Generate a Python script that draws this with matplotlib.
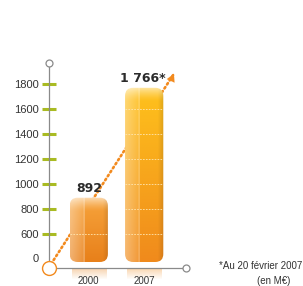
#!/usr/bin/env python3

import numpy as np
import matplotlib
matplotlib.use("Agg")
import matplotlib.pyplot as plt
from matplotlib.patches import FancyBboxPatch
from matplotlib.transforms import ScaledTranslation

# data
years = ["2000", "2007"]
values = [892, 1766]
value_labels = ["892", "1 766*"]
tick_values = [0, 600, 800, 1000, 1200, 1400, 1600, 1800]
tick_labels = ["0", "600", "800", "1000", "1200", "1400", "1600", "1800"]
footnote = "*Au 20 février 2007"
unit_note = "(en M€)"

plt.rcParams["font.family"] = ["Liberation Sans", "DejaVu Sans"]

GRAY = "#8a8a8a"
GREEN = "#a9bb22"
ORANGE = "#f28a1e"
TEXT = "#333333"

# the value axis is squeezed between 0 and 600
BREAK = 600
SQUEEZE = 267.0 / 600.0


def forward(v):
    v = np.asarray(v, dtype=float)
    return np.where(v < BREAK, v * SQUEEZE, v - BREAK + BREAK * SQUEEZE)


def inverse(u):
    u = np.asarray(u, dtype=float)
    return np.where(u < BREAK * SQUEEZE, u / SQUEEZE, u + BREAK - BREAK * SQUEEZE)


def bar_image(ny, nx, top, bottom, light_top):
    """Orange glossy gradient for one bar."""
    v = np.linspace(0, 1, ny)[:, None]
    u = np.linspace(0, 1, nx)[None, :]
    top = np.array(matplotlib.colors.to_rgb(top))
    bottom = np.array(matplotlib.colors.to_rgb(bottom))
    img = top[None, None, :] * (1 - v[..., None]) + bottom[None, None, :] * v[..., None]
    img = np.broadcast_to(img, (ny, nx, 3)).copy()
    # left part of the tube is lighter
    left = np.clip(1 - u / 0.36, 0, 1) * 0.25 + (u < 0.36) * 0.12
    img = img + (1 - img) * left[..., None]
    # thin light line where the light part ends
    line = np.exp(-((u - 0.36) / 0.012) ** 2) * 0.35
    img = img + (1 - img) * line[..., None]
    # right edge a bit darker
    dark = np.clip((u - 0.85) / 0.15, 0, 1) * 0.12
    img = img * (1 - dark[..., None])
    # glossy top
    gloss = np.clip(1 - v * ny / light_top, 0, 1) ** 1.5 * 0.6
    img = img + (1 - img) * gloss[..., None]
    return np.clip(img, 0, 1)


fig = plt.figure(figsize=(3.03, 2.86), dpi=100)
W, H = 303.0, 286.0
ax = fig.add_axes([48.5 / W, 1 - 268 / H, 137.5 / W, 205 / H])
ax.set_yscale("function", functions=(forward, inverse))
ax.set_ylim(0, 1963)
ax.set_xlim(-0.727, 1.755)
ax.set_autoscale_on(False)

for side in ["top", "right"]:
    ax.spines[side].set_visible(False)
for side in ["left", "bottom"]:
    ax.spines[side].set_color(GRAY)
    ax.spines[side].set_linewidth(0.9)

ax.set_yticks(tick_values)
ax.set_yticklabels(tick_labels)
ax.tick_params(axis="y", direction="inout", length=9.4, width=2.2, color=GREEN,
               labelsize=8, labelcolor=TEXT, pad=2)
ax.set_xticks(range(len(years)))
ax.set_xticklabels(years)
ax.tick_params(axis="x", length=0, labelsize=7, labelcolor=TEXT, pad=6)

yticks = ax.yaxis.get_major_ticks()
yticks[0].tick1line.set_visible(False)
yticks[0].label1.set_transform(yticks[0].label1.get_transform()
                               + ScaledTranslation(0, 10 / 100, fig.dpi_scale_trans))

# end markers of the axes
ax.plot([0], [1], marker="o", ms=5, mfc="white", mec=GRAY, mew=0.9,
        transform=ax.transAxes, clip_on=False, zorder=5)
ax.plot([1], [0], marker="o", ms=5, mfc="white", mec=GRAY, mew=0.9,
        transform=ax.transAxes, clip_on=False, zorder=5)
ax.plot([0], [0], marker="o", ms=10, mfc="white", mec=ORANGE, mew=1.0,
        transform=ax.transAxes, clip_on=False, zorder=6)

# dotted trend arrow, behind the bars
tip = (0.92, 0.96)
ax.plot([0, tip[0] - 0.01], [0, tip[1] - 0.015], color=ORANGE, lw=1.9,
        ls=(0, (0.6, 1.2)), dash_capstyle="round", transform=ax.transAxes,
        clip_on=False, zorder=1)
ax.annotate("", xy=tip, xytext=(tip[0] - 0.04, tip[1] - 0.06),
            xycoords="axes fraction", textcoords="axes fraction",
            arrowprops=dict(arrowstyle="-|>,head_length=0.55,head_width=0.3",
                            color=ORANGE, lw=0.1), zorder=1)

bars = ax.bar(range(len(years)), values, width=0.69, alpha=0)

to_axes = ax.transAxes.inverted()
fig.canvas.draw()
ax_w = ax.bbox.width
ax_h = ax.bbox.height
palette = [("#f7a43c", "#e8801a"), ("#ffc21c", "#f08a1c")]
label_offsets = [2, 2]

for i, (bar, val) in enumerate(zip(bars, values)):
    x0 = bar.get_x()
    x1 = x0 + bar.get_width()
    (px0, py_top), (px1, py_ax) = ax.transData.transform([(x0, val), (x1, 0)])
    py_bot = py_ax + 6
    (a0, b0) = to_axes.transform((px0, py_bot))
    (a1, b1) = to_axes.transform((px1, py_top))
    r = 8.0
    box = FancyBboxPatch((a0, b0), a1 - a0, b1 - b0,
                         boxstyle=f"round,pad=0,rounding_size={r / ax_w}",
                         mutation_aspect=ax_w / ax_h,
                         transform=ax.transAxes, fc="none", ec="none", zorder=3)
    ax.add_patch(box)
    ny = int(py_top - py_bot)
    img = bar_image(ny, 40, palette[i][0], palette[i][1], 14)
    im = ax.imshow(img, extent=(a0, a1, b0, b1), transform=ax.transAxes,
                   aspect="auto", interpolation="bilinear", zorder=3)
    im.set_clip_path(box)

    # faint dashed guides inside the bar
    inner = [t for t in tick_values if BREAK <= t < val - 120]
    if inner:
        lines = ax.hlines(inner, x0, x1, colors="#ffe6b0", lw=0.6,
                          linestyles=(0, (2, 1.5)), zorder=4)
        lines.set_clip_path(box)

    # reflection under the axis
    rb = 12 / ax_h
    refl = np.zeros((12, 40, 4))
    refl[..., :3] = matplotlib.colors.to_rgb(palette[i][1])
    refl[..., 3] = np.linspace(0.35, 0, 12)[:, None]
    ax.imshow(refl, extent=(a0 + 2 / ax_w, a1 - 2 / ax_w, -rb, 0),
              transform=ax.transAxes, aspect="auto", interpolation="bilinear",
              clip_on=False, zorder=0)

    ax.annotate(value_labels[i], xy=(bar.get_x() + bar.get_width() / 2, val),
                xytext=(-1 if i else 0, label_offsets[i]),
                textcoords="offset points", ha="center", va="bottom",
                fontsize=9, fontweight="bold", color="#2b2b2b",
                family="DejaVu Sans", zorder=6)

fig.text(302 / W, 1 - 266 / H, footnote, ha="right", va="center",
         fontsize=7, color=TEXT)
fig.text(290 / W, 1 - 281 / H, unit_note, ha="right", va="center",
         fontsize=7, color=TEXT)

fig.savefig("out.png", dpi=100)
